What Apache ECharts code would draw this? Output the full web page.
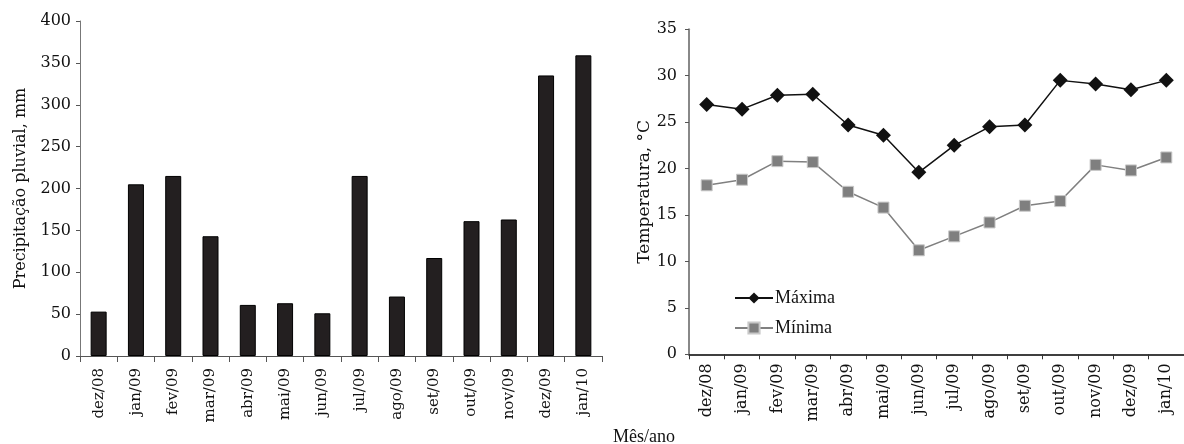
<!DOCTYPE html>
<html>
<head>
<meta charset="utf-8">
<script src="https://cdn.jsdelivr.net/npm/echarts@6/dist/echarts.min.js"></script>
<style>
html,body{margin:0;padding:0;background:#fff;}
#c{width:1184px;height:444px;}
</style>
</head>
<body>
<div id="c"></div>
<script>
var months = ['dez/08','jan/09','fev/09','mar/09','abr/09','mai/09','jun/09','jul/09','ago/09','set/09','out/09','nov/09','dez/09','jan/10'];
var precipitacao = [53, 205, 215, 143, 61, 63, 51, 215, 71, 117, 161, 163, 335, 359];
var tempMaxima = [26.9, 26.4, 27.9, 28.0, 24.7, 23.6, 19.6, 22.5, 24.5, 24.7, 29.5, 29.1, 28.5, 29.5];
var tempMinima = [18.2, 18.8, 20.8, 20.7, 17.5, 15.8, 11.2, 12.7, 14.2, 16.0, 16.5, 20.4, 19.8, 21.2];
var precipTicks = {min: 0, max: 400, interval: 50};
var tempTicks = {min: 0, max: 35, interval: 5};

var serif = 'DejaVu Serif';
var chart = echarts.init(document.getElementById('c'), null, {renderer: 'canvas'});
chart.setOption({
  animation: false,
  backgroundColor: '#fff',
  grid: [
    {left: 80, top: 21, right: 582, bottom: 88, containLabel: false},
    {left: 689, top: 29.3, right: -12, bottom: 89.7, containLabel: false}
  ],
  legend: {
    data: ['Máxima', 'Mínima'],
    orient: 'vertical',
    left: 729,
    top: 284,
    itemWidth: 38,
    itemHeight: 14,
    itemGap: 12,
    textStyle: {fontFamily: 'Liberation Serif', fontSize: 18, color: '#111', lineHeight: 18, padding: [0,0,0,-3]}
  },
  xAxis: [
    {
      type: 'category', gridIndex: 0, data: months,
      axisLine: {lineStyle: {color: '#555', width: 1}},
      axisTick: {show: true, length: 6, lineStyle: {color: '#555'}},
      axisLabel: {rotate: 90, margin: 12, fontFamily: serif, fontSize: 15, color: '#111'}
    },
    {
      type: 'category', gridIndex: 1, data: months,
      axisLine: {lineStyle: {color: '#000', width: 1.5}},
      axisTick: {show: true, length: 5, lineStyle: {color: '#333'}},
      axisLabel: {rotate: 90, margin: 9, fontFamily: serif, fontSize: 16, color: '#111'}
    }
  ],
  yAxis: [
    {
      type: 'value', gridIndex: 0, min: precipTicks.min, max: precipTicks.max, interval: precipTicks.interval,
      name: 'Precipitação pluvial, mm', nameLocation: 'middle', nameGap: 51,
      nameTextStyle: {fontFamily: serif, fontSize: 16, color: '#111'},
      axisLine: {show: true, lineStyle: {color: '#777', width: 1}},
      axisTick: {show: true, length: 4, lineStyle: {color: '#555'}},
      axisLabel: {margin: 9, fontFamily: serif, fontSize: 16, color: '#111'},
      splitLine: {show: false}
    },
    {
      type: 'value', gridIndex: 1, min: tempTicks.min, max: tempTicks.max, interval: tempTicks.interval,
      name: 'Temperatura, °C', nameLocation: 'middle', nameGap: 25,
      nameTextStyle: {fontFamily: serif, fontSize: 17, color: '#111'},
      axisLine: {show: true, lineStyle: {color: '#888', width: 2}},
      axisTick: {show: true, length: 4, lineStyle: {color: '#555'}},
      axisLabel: {margin: 12, fontFamily: serif, fontSize: 16, color: '#111'},
      splitLine: {show: false}
    }
  ],
  graphic: [
    {type: 'text', left: 613, top: 428, style: {text: 'Mês/ano', font: '18px "Liberation Serif"', fill: '#111'}}
  ],
  series: [
    {
      name: 'Precipitação', type: 'bar', xAxisIndex: 0, yAxisIndex: 0, data: precipitacao,
      barWidth: 16,
      itemStyle: {color: '#231f20', borderColor: '#000', borderWidth: 1}
    },
    {
      name: 'Máxima', type: 'line', xAxisIndex: 1, yAxisIndex: 1, data: tempMaxima,
      symbol: 'diamond', symbolSize: [15, 15],
      lineStyle: {color: '#111', width: 1.5},
      itemStyle: {color: '#111', borderColor: '#111', borderWidth: 0}
    },
    {
      name: 'Mínima', type: 'line', xAxisIndex: 1, yAxisIndex: 1, data: tempMinima,
      symbol: 'rect', symbolSize: 11,
      lineStyle: {color: '#808080', width: 1.5},
      itemStyle: {color: '#7f7f7f', borderColor: '#c8c8c8', borderWidth: 1}
    }
  ]
});
</script>
</body>
</html>
